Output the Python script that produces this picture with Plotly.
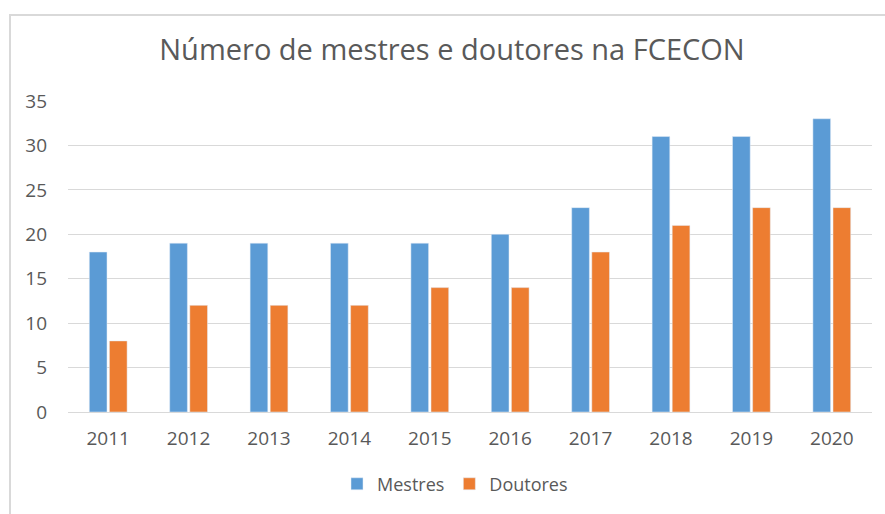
import plotly.graph_objects as go

anos = ["2011", "2012", "2013", "2014", "2015", "2016", "2017", "2018", "2019", "2020"]
mestres = [18, 19, 19, 19, 19, 20, 23, 31, 31, 33]
doutores = [8, 12, 12, 12, 14, 14, 18, 21, 23, 23]

W, H = 885, 514
L, R, T, B = 68, 13, 101, 98
pw, ph = W - L - R, H - T - B

font_family = "'Open Sans', Lato, sans-serif"
fig = go.Figure()
fig.add_trace(go.Bar(x=anos, y=mestres, name="Mestres", marker_color="#5B9BD5"))
fig.add_trace(go.Bar(x=anos, y=doutores, name="Doutores", marker_color="#ED7D31"))

bx0 = (10 - L) / pw
by1 = 1 + (T - 14) / ph

fig.update_layout(
    width=W, height=H,
    margin=dict(l=L, r=R, t=T, b=B),
    paper_bgcolor="white", plot_bgcolor="white",
    title=dict(text="Número de mestres e doutores na FCECON", xref="container", x=452 / W, xanchor="center",
               y=1 - 50 / H, yanchor="middle",
               font=dict(family=font_family, size=29, color="#595959")),
    barmode="group", bargap=0.5, bargroupgap=0.12,
    showlegend=True,
    legend=dict(orientation="h", x=(455 - L) / pw, xanchor="center", y=-(489 - (H - B)) / ph, yanchor="middle",
                font=dict(family=font_family, size=18, color="#595959"),
                itemwidth=30, tracegroupgap=0),
    xaxis=dict(showgrid=False, showline=True, linecolor="#d9d9d9", linewidth=1,
               tickfont=dict(family=font_family, size=19, color="#595959"), ticks="",
               ticklabelstandoff=9),
    yaxis=dict(range=[0, 35], dtick=5, showgrid=True, gridcolor="#d9d9d9", gridwidth=1,
               zeroline=False, showline=False, ticks="", ticklabelstandoff=20,
               tickfont=dict(family=font_family, size=19, color="#595959")),
    shapes=[dict(type="rect", xref="paper", yref="paper", x0=bx0, x1=1.2, y0=-1.0, y1=by1,
                 line=dict(color="#d9d9d9", width=2), layer="below")],
)
fig.write_html("out.html", config={"displayModeBar": False},
               post_script="document.body.style.margin='0';document.body.style.padding='0';")
